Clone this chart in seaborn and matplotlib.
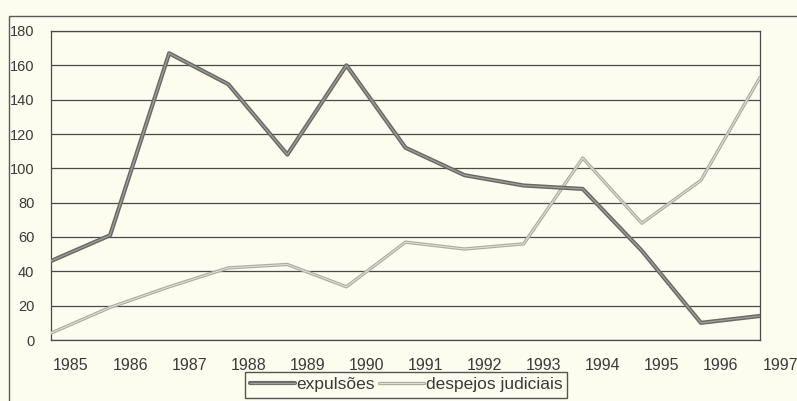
import numpy as np
import pandas as pd
import matplotlib
matplotlib.use("Agg")
import matplotlib.pyplot as plt
import matplotlib.patheffects as pe
import matplotlib.transforms as mtransforms
from matplotlib.patches import Rectangle
import seaborn as sns

# Daten
anos = [1985, 1986, 1987, 1988, 1989, 1990, 1991, 1992, 1993, 1994, 1995, 1996, 1997]
expulsoes = [46, 61, 167, 149, 108, 160, 112, 96, 90, 88, 52, 10, 14]
despejos = [4, 19, 31, 42, 44, 31, 57, 53, 56, 106, 68, 93, 153]
y_ticks = [0, 20, 40, 60, 80, 100, 120, 140, 160, 180]

sns.set_theme(style="white")
plt.rcParams['font.family'] = ['Liberation Sans', 'DejaVu Sans']

bg = '#fcfcef'
fig = plt.figure(figsize=(7.97, 4.01), dpi=100, facecolor=bg)
ax = fig.add_axes([51/797, 1 - 340/401, 709/797, 309/401])
ax.set_facecolor(bg)

df = pd.DataFrame({'ano': anos, 'expulsões': expulsoes, 'despejos judiciais': despejos})

sns.lineplot(data=df, x='ano', y='expulsões', ax=ax, color='#a0a09a', lw=0.9,
             label='expulsões')
sns.lineplot(data=df, x='ano', y='despejos judiciais', ax=ax, color='#e2e2d6', lw=0.7,
             label='despejos judiciais')
lines = ax.get_lines()
lines[0].set_path_effects([pe.Stroke(linewidth=3.0, foreground='#6a6a64'), pe.Normal()])
lines[1].set_path_effects([pe.Stroke(linewidth=2.4, foreground='#acaca2'), pe.Normal()])
lines[0].set_zorder(4)
lines[1].set_zorder(3)

ax.set_xlim(1985, 1997)
ax.set_ylim(0, 180)
ax.set_yticks(y_ticks)
ax.set_xticks(anos)
ax.set_xticklabels([str(a) for a in anos])
ax.set_xlabel('')
ax.set_ylabel('')
ax.yaxis.grid(True, color='#4a4a48', lw=0.9)
ax.set_axisbelow(True)
for s in ax.spines.values():
    s.set_color('#4a4a48')
    s.set_linewidth(0.9)
ax.tick_params(axis='both', direction='out', length=4, width=0.9, color='#4a4a48',
               labelsize=10.5, labelcolor='#3a3a38')
ax.tick_params(axis='y', pad=8)
ax.tick_params(axis='x', pad=9, labelsize=11.5)

# Jahreszahlen leicht nach rechts versetzt wie im Original
offset = mtransforms.ScaledTranslation(20/100, 0, fig.dpi_scale_trans)
for lab in ax.get_xticklabels():
    lab.set_transform(lab.get_transform() + offset)

ax.legend_.remove()
leg = fig.legend(handles=lines, labels=['expulsões', 'despejos judiciais'], ncol=2,
                 loc='upper center', bbox_to_anchor=(406/797, 1 - 372/401),
                 frameon=True, fancybox=False, edgecolor='#2a2a28', facecolor=bg,
                 fontsize=12.5, handlelength=2.6, handletextpad=0.1, columnspacing=0.2,
                 borderpad=0.3, borderaxespad=0)
leg.get_frame().set_linewidth(1.0)
for t in leg.get_texts():
    t.set_color('#3a3a38')

# Rahmen um das Diagramm
fig.patches.append(Rectangle((9/797, -0.05), 1.0, 1 - 16/401 + 0.05, transform=fig.transFigure,
                             fill=False, edgecolor='#5a5a58', lw=1.0))

fig.savefig('out.png', dpi=100, facecolor=bg)
